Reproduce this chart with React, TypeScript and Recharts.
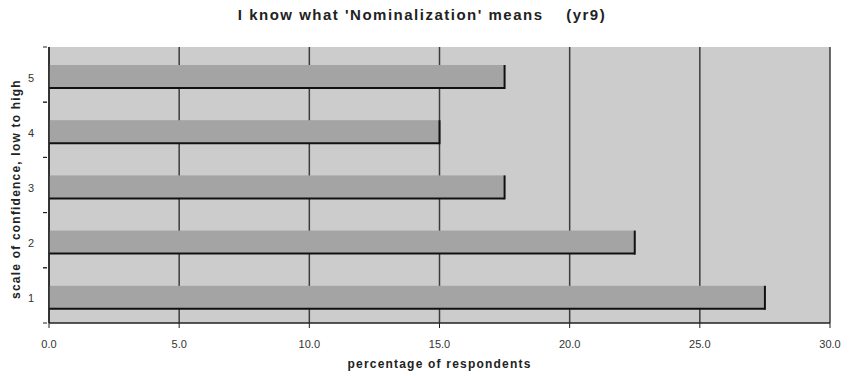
import { BarChart, Bar, XAxis, YAxis, CartesianGrid } from "recharts";

// ─── Data ───────────────────────────────────────────────
const levels = ["1", "2", "3", "4", "5"];
const percentages = [27.5, 22.5, 17.5, 15.0, 17.5];
const xTicks = [0, 5, 10, 15, 20, 25, 30];

const data = levels.map((level, i) => ({ level, pct: percentages[i] }));

const FONT = '"Liberation Sans", Arial, sans-serif';

// ─── Bar with dark bottom/right edge ────────────────────
function EdgedBar(props: any) {
    const { x, y, width, height } = props;
    if (width <= 0) return null;
    const yy = y + 2;
    return (
        <g>
            <rect x={x} y={yy} width={width} height={height} fill="#a4a4a4" />
            <line x1={x} y1={yy + height} x2={x + width} y2={yy + height} stroke="#111" strokeWidth={2} />
            <line x1={x + width} y1={yy} x2={x + width} y2={yy + height + 1} stroke="#111" strokeWidth={2} />
        </g>
    );
}

// ─── Category tick: label + short marks at band edges ───
function LevelTick(props: any) {
    const { x, y, payload } = props;
    const half = payload?.offset ?? 0;
    return (
        <g>
            <line x1={x - 4} y1={y - half} x2={x} y2={y - half} stroke="#222" />
            <line x1={x - 4} y1={y + half} x2={x} y2={y + half} stroke="#222" />
            <text x={x - 16} y={y + 7} textAnchor="middle" fill="#333" fontSize={11} fontFamily={FONT}>
                {payload.value}
            </text>
        </g>
    );
}

export default function App() {
    return (
        <div style={{ position: "absolute", left: 0, top: 0, width: 856, height: 376, background: "#fff", fontFamily: FONT }}>
            <div
                style={{
                    position: "absolute",
                    top: 6,
                    left: -6,
                    width: 856,
                    textAlign: "center",
                    fontSize: 15,
                    letterSpacing: 1.5,
                    fontWeight: "bold",
                    color: "#222",
                    whiteSpace: "pre",
                }}
            >
                {"I know what 'Nominalization' means    (yr9)"}
            </div>
            <BarChart
                width={856}
                height={376}
                data={data}
                layout="vertical"
                barCategoryGap={0}
                margin={{ top: 47, right: 26, left: 0, bottom: 0 }}
            >
                <CartesianGrid
                    horizontal={false}
                    fill="#cccccc"
                    stroke="#3c3c3c"
                    strokeWidth={1.5}
                />
                <XAxis
                    type="number"
                    dataKey="pct"
                    domain={[0, 30]}
                    ticks={xTicks}
                    tickFormatter={(v: number) => v.toFixed(1)}
                    height={53}
                    tick={{ fill: "#333", fontSize: 11, fontFamily: FONT }}
                    tickSize={5}
                    tickMargin={12}
                    tickLine={{ stroke: "#222" }}
                    axisLine={{ stroke: "#222", strokeWidth: 1.5 }}
                    label={{
                        value: "percentage of respondents",
                        position: "insideBottom",
                        offset: 8,
                        style: { fill: "#222", fontSize: 12, letterSpacing: 1.2, fontWeight: "bold", fontFamily: FONT },
                    }}
                />
                <XAxis
                    xAxisId="top"
                    orientation="top"
                    type="number"
                    domain={[0, 30]}
                    height={0}
                    tick={false}
                    tickLine={false}
                    axisLine={{ stroke: "#888" }}
                />
                <YAxis
                    type="category"
                    dataKey="level"
                    reversed
                    width={49}
                    tickLine={false}
                    tickSize={0}
                    axisLine={{ stroke: "#222", strokeWidth: 1.5 }}
                    tick={<LevelTick />}
                    label={{
                        value: "scale of confidence, low to high",
                        angle: -90,
                        position: "insideLeft",
                        offset: 16,
                        dy: 4,
                        style: { textAnchor: "middle", fill: "#222", fontSize: 12, letterSpacing: 1.2, fontWeight: "bold", fontFamily: FONT },
                    }}
                />
                <Bar
                    dataKey="pct"
                    barSize={23}
                    shape={<EdgedBar />}
                    isAnimationActive={false}
                />
            </BarChart>
        </div>
    );
}
